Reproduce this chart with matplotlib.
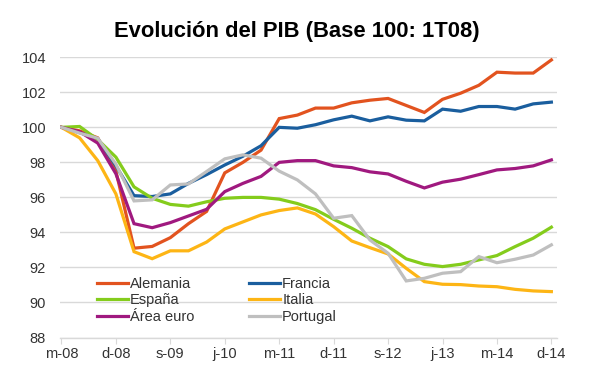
import matplotlib
matplotlib.use("Agg")
import matplotlib.pyplot as plt

plt.rcParams['font.family'] = ['Liberation Sans', 'DejaVu Sans']

tick_labels = ["m-08", "d-08", "s-09", "j-10", "m-11", "d-11", "s-12", "j-13", "m-14", "d-14"]

alemania = [100, 99.8, 99.4, 97.5, 93.1, 93.2, 93.7, 94.5, 95.2, 97.4, 98.0, 98.7, 100.5, 100.7,
            101.1, 101.1, 101.4, 101.55, 101.65, 101.25, 100.85, 101.6, 101.95, 102.4, 103.15, 103.1, 103.1, 103.85]
francia = [100, 99.7, 99.35, 97.8, 96.1, 96.05, 96.2, 96.8, 97.3, 97.85, 98.35, 98.95, 100.0, 99.95,
           100.15, 100.43, 100.64, 100.37, 100.6, 100.41, 100.37, 101.04, 100.92, 101.19, 101.19, 101.04, 101.34, 101.44]
espana = [100, 100.05, 99.3, 98.3, 96.6, 95.95, 95.6, 95.5, 95.75, 95.95, 96.0, 96.0, 95.9, 95.65,
          95.3, 94.75, 94.24, 93.67, 93.19, 92.49, 92.18, 92.05, 92.18, 92.43, 92.68, 93.19, 93.67, 94.3]
italia = [100, 99.4, 98.1, 96.2, 92.9, 92.5, 92.95, 92.95, 93.45, 94.2, 94.6, 95.0, 95.25, 95.4,
          95.05, 94.33, 93.51, 93.13, 92.77, 91.95, 91.19, 91.04, 91.02, 90.94, 90.9, 90.75, 90.66, 90.62]
area_euro = [100, 99.75, 99.1, 97.35, 94.5, 94.27, 94.56, 94.94, 95.32, 96.33, 96.8, 97.2, 98.0, 98.1,
             98.1, 97.8, 97.7, 97.46, 97.34, 96.92, 96.54, 96.87, 97.04, 97.3, 97.57, 97.65, 97.8, 98.14]
portugal = [100, 99.67, 99.38, 97.9, 95.8, 95.86, 96.71, 96.77, 97.48, 98.2, 98.43, 98.24, 97.5, 97.0,
            96.2, 94.81, 94.96, 93.57, 92.81, 91.23, 91.38, 91.67, 91.76, 92.62, 92.27, 92.47, 92.71, 93.29]

names = ["Alemania", "Francia", "España", "Italia", "Área euro", "Portugal"]
series = [alemania, francia, espana, italia, area_euro, portugal]
colors = ["#E2531F", "#1A5E9E", "#84CC1C", "#FDB515", "#A0197F", "#BFBFBF"]

fig = plt.figure(figsize=(6.1, 3.76), dpi=100)
ax = fig.add_axes([60/610, 1-337.5/376, (557-60)/610, (337.5-57.3)/376])

x = list(range(len(alemania)))
lines = {}
for name, vals, c in zip(names, series, colors):
    ln, = ax.plot(x, vals, color=c, lw=2.3, solid_joinstyle='miter', label=name)
    lines[name] = ln

ax.set_ylim(88, 104)
ax.set_yticks(range(88, 105, 2))
ax.set_xlim(-0.08, 27.31)
ax.set_xticks(range(0, len(alemania), 3))
ax.set_xticklabels(tick_labels)

ax.grid(axis='y', color='#D9D9D9', lw=1)
ax.set_axisbelow(True)
for s in ['top', 'right', 'left']:
    ax.spines[s].set_visible(False)
ax.spines['bottom'].set_color('#D9D9D9')
ax.spines['bottom'].set_linewidth(1)
ax.tick_params(axis='y', length=0, labelsize=10.5, labelcolor='#333333', pad=10)
ax.tick_params(axis='x', length=4, color='#D9D9D9', labelsize=10.5, labelcolor='#333333', pad=3)

order = ["Alemania", "España", "Área euro", "Francia", "Italia", "Portugal"]
leg = ax.legend([lines[n] for n in order], order, ncol=2, frameon=False,
                loc='upper left', bbox_to_anchor=(97/610, 1-277/376), bbox_transform=fig.transFigure,
                fontsize=10.5, handlelength=2.12, handletextpad=0.12, labelspacing=0.16,
                columnspacing=3.8, borderaxespad=0, borderpad=0)
for t in leg.get_texts():
    t.set_color('#333333')

fig.text(297/610, 1-32/376, "Evolución del PIB (Base 100: 1T08)", ha='center', va='center',
         fontsize=15.8, fontweight='bold', color='black')

fig.savefig("out.png", dpi=100)
